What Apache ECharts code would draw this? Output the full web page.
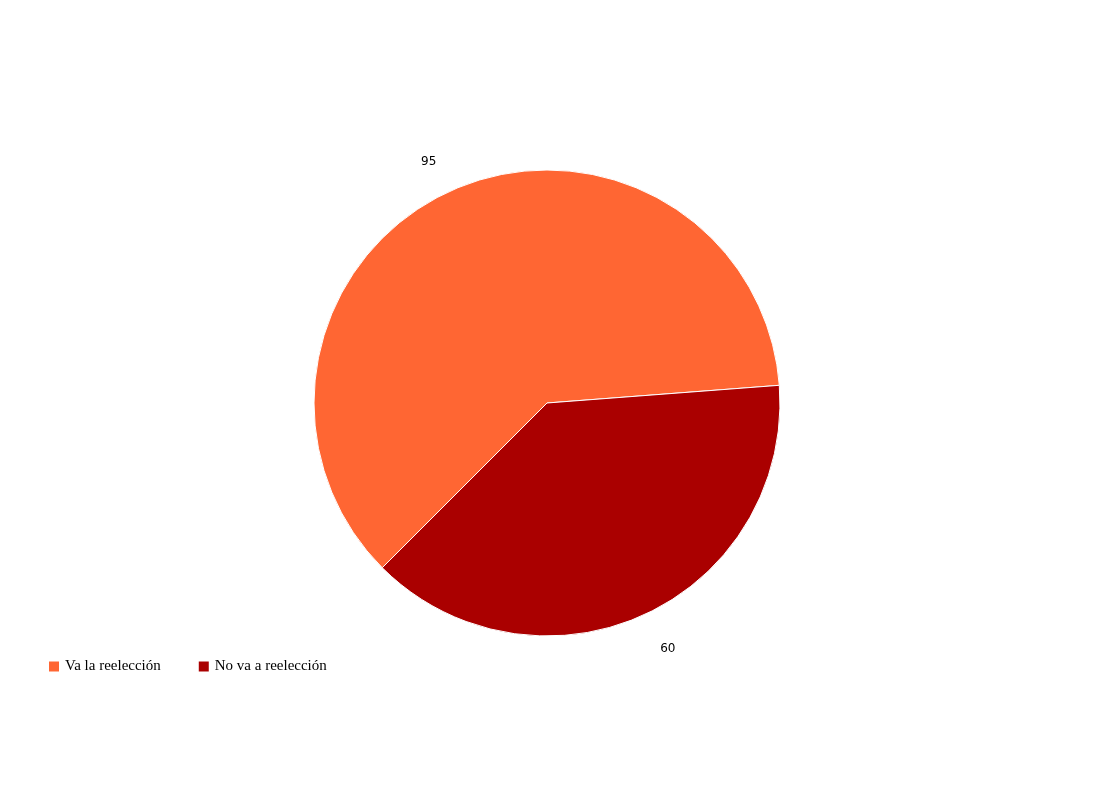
<!DOCTYPE html>
<html>
<head>
<meta charset="utf-8">
<script src="https://cdn.jsdelivr.net/npm/echarts@6/dist/echarts.min.js"></script>
<style>
html,body{margin:0;padding:0;background:#fff;}
#chart{width:1095px;height:805px;}
</style>
</head>
<body>
<div id="chart"></div>
<script>
var categories = ['Va la reelección', 'No va a reelección'];
var values = [95, 60];
var colors = ['#FF6633', '#AA0000'];

var chart = echarts.init(document.getElementById('chart'));
chart.setOption({
  animation: false,
  backgroundColor: '#ffffff',
  color: colors,
  legend: {
    left: 47,
    top: 659,
    padding: 0,
    orient: 'horizontal',
    icon: 'rect',
    itemWidth: 12,
    itemHeight: 12,
    itemGap: 36,
    textStyle: { fontFamily: 'Liberation Serif', fontSize: 15, color: '#000' },
    data: categories
  },
  series: [{
    type: 'pie',
    center: [547, 403],
    radius: 233,
    startAngle: 225,
    clockwise: true,
    itemStyle: { borderColor: '#ffffff', borderWidth: 1 },
    label: {
      show: true,
      position: 'outside',
      formatter: '{c}',
      fontFamily: 'DejaVu Sans',
      fontSize: 12,
      color: '#000',
      distanceToLabelLine: 0
    },
    labelLine: { show: false, length: 32, length2: 0 },
    data: categories.map(function (c, i) {
      return { name: c, value: values[i], labelLine: { length: i === 1 ? 38 : 32, length2: 0 } };
    })
  }]
});
</script>
</body>
</html>
